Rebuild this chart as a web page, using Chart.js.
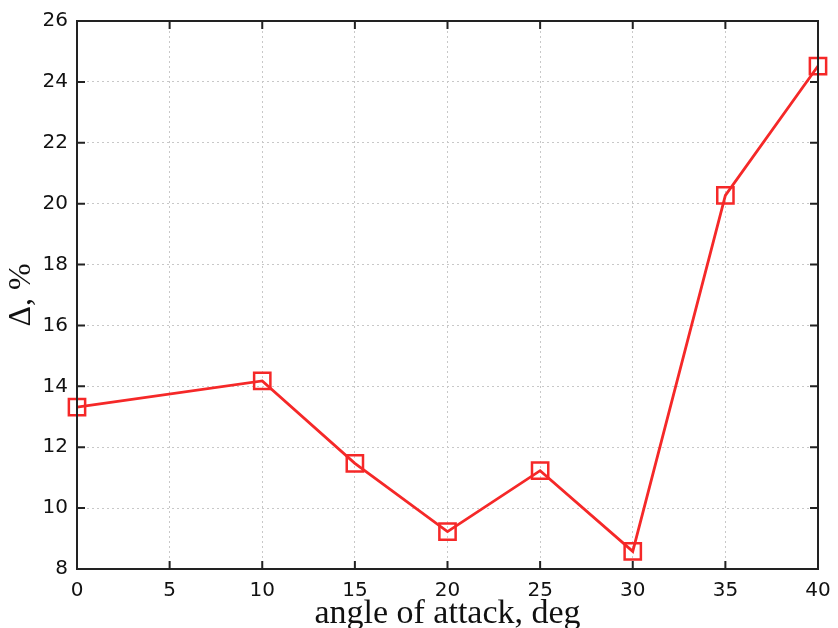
<!DOCTYPE html>
<html>
<head>
<meta charset="utf-8">
<script src="https://cdn.jsdelivr.net/npm/chart.js@4/dist/chart.umd.min.js"></script>
<style>
  html, body { margin: 0; padding: 0; background: #fff; overflow: hidden; }
  #wrap { position: relative; width: 838px; height: 634px; }
</style>
</head>
<body>
<div id="wrap"><canvas id="chart"></canvas></div>
<script>
// Dati
const angles = [0, 10, 15, 20, 25, 30, 35, 40];
const deltaValues = [13.32, 14.18, 11.47, 9.23, 11.23, 8.58, 20.27, 24.52];
const xTicks = [0, 5, 10, 15, 20, 25, 30, 35, 40];
const yTicks = [8, 10, 12, 14, 16, 18, 20, 22, 24, 26];

const lineRed = '#f52828';

// Tacche interne sui quattro lati
const innerTicks = {
    id: 'innerTicks',
    afterDatasetsDraw(chart) {
        const { ctx, chartArea, scales } = chart;
        const len = 8;
        ctx.save();
        ctx.strokeStyle = '#222';
        ctx.lineWidth = 2;
        ctx.beginPath();
        xTicks.forEach(v => {
            const x = scales.x.getPixelForValue(v);
            ctx.moveTo(x, chartArea.bottom);
            ctx.lineTo(x, chartArea.bottom - len);
            ctx.moveTo(x, chartArea.top);
            ctx.lineTo(x, chartArea.top + len);
        });
        yTicks.forEach(v => {
            const y = scales.y.getPixelForValue(v);
            ctx.moveTo(chartArea.left, y);
            ctx.lineTo(chartArea.left + len, y);
            ctx.moveTo(chartArea.right, y);
            ctx.lineTo(chartArea.right - len, y);
        });
        ctx.stroke();
        // cornice
        ctx.lineWidth = 2;
        ctx.strokeRect(chartArea.left, chartArea.top, chartArea.right - chartArea.left, chartArea.bottom - chartArea.top);
        ctx.restore();
    }
};

const ctx = document.getElementById('chart').getContext('2d');
new Chart(ctx, {
    type: 'line',
    data: {
        datasets: [{
            data: angles.map((a, i) => ({ x: a, y: deltaValues[i] })),
            borderColor: lineRed,
            borderWidth: 2.8,
            pointStyle: 'rect',
            pointRadius: 11.5,
            pointBorderWidth: 2.5,
            pointBorderColor: lineRed,
            pointBackgroundColor: 'rgba(0,0,0,0)',
            tension: 0,
            clip: false
        }]
    },
    options: {
        responsive: true,
        maintainAspectRatio: false,
        animation: false,
        layout: { padding: { top: 21, right: 20, left: 0, bottom: 0 } },
        plugins: {
            legend: { display: false },
            tooltip: { enabled: false }
        },
        scales: {
            x: {
                type: 'linear',
                min: 0,
                max: 40,
                afterBuildTicks: s => { s.ticks = xTicks.map(v => ({ value: v })); },
                afterFit: s => { s.height = 65; s.paddingLeft = 0; s.paddingRight = 0; },
                grid: {
                    color: '#c8c8c8',
                    lineWidth: 1,
                    drawTicks: false
                },
                border: { display: false, dash: [2, 3] },
                ticks: {
                    color: '#111',
                    padding: 10,
                    maxRotation: 0,
                    font: { family: 'DejaVu Sans', size: 20 }
                },
                title: {
                    display: true,
                    text: 'angle of attack, deg',
                    color: '#111',
                    padding: { top: 0, bottom: 0 },
                    font: { family: 'Liberation Serif', size: 34 }
                }
            },
            y: {
                type: 'linear',
                min: 8,
                max: 26,
                afterBuildTicks: s => { s.ticks = yTicks.map(v => ({ value: v })); },
                afterFit: s => { s.width = 77; },
                grid: {
                    color: '#c8c8c8',
                    lineWidth: 1,
                    drawTicks: false
                },
                border: { display: false, dash: [2, 3] },
                ticks: {
                    color: '#111',
                    padding: 9,
                    font: { family: 'DejaVu Sans', size: 20 }
                },
                title: {
                    display: true,
                    text: 'Δ, %',
                    color: '#111',
                    padding: { top: 2, bottom: 0 },
                    font: { family: 'Liberation Serif', size: 32 }
                }
            }
        }
    },
    plugins: [innerTicks]
});
</script>
</body>
</html>
